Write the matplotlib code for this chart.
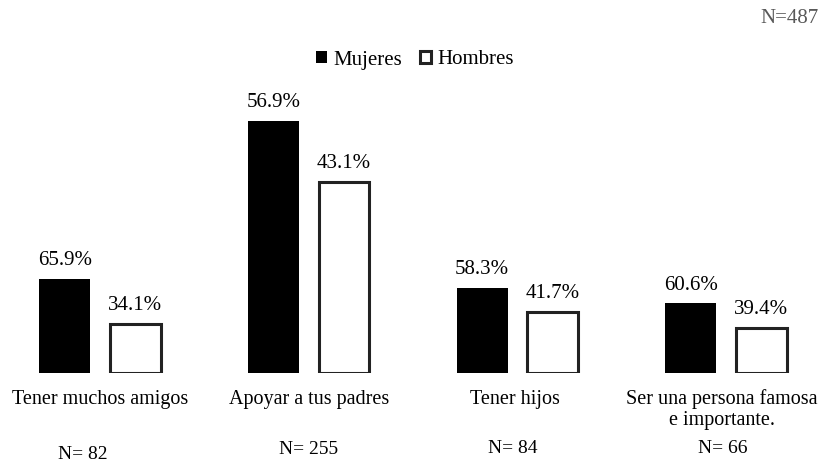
import numpy as np
import matplotlib
matplotlib.use("Agg")
import matplotlib.pyplot as plt
from matplotlib.transforms import blended_transform_factory

plt.rcParams['font.family'] = ['Liberation Serif', 'DejaVu Serif']

# datos
categorias = ['Tener muchos amigos', 'Apoyar a tus padres', 'Tener hijos',
              'Ser una persona famosa\ne importante.']
mujeres = [54, 145, 49, 40]
hombres = [28, 110, 35, 26]
pct_mujeres = ['65.9%', '56.9%', '58.3%', '60.6%']
pct_hombres = ['34.1%', '43.1%', '41.7%', '39.4%']
n_grupo = [82, 255, 84, 66]
n_total = 487

W, H = 821, 463
fig = plt.figure(figsize=(W / 100, H / 100), dpi=100)
base_px = 373          # linea base de las barras (px desde arriba)
px_por_u = 1.74        # px por persona
grupo_px = 208.7       # separacion entre grupos
x0_px = 100            # centro del primer grupo

ax = fig.add_axes([0, (H - base_px) / H, 1, base_px / H])
ax.set_xlim(-x0_px / grupo_px, (W - x0_px) / grupo_px)
ax.set_ylim(0, base_px / px_por_u)
ax.axis('off')

x = np.arange(len(categorias))
ancho = 0.244
d = 0.169
bm = ax.bar(x - d, mujeres, ancho, color='black', label='Mujeres')
bh = ax.bar(x + d, hombres, ancho, color='white', edgecolor='#222222',
            linewidth=2.2, label='Hombres')

for i in range(len(x)):
    ax.annotate(pct_mujeres[i], (x[i] - d, mujeres[i]), xytext=(0, 10),
                textcoords='offset points', ha='center', va='baseline',
                fontsize=15)
    ax.annotate(pct_hombres[i], (x[i] + d, hombres[i]), xytext=(0, 10),
                textcoords='offset points', ha='center', va='baseline',
                fontsize=15)

tr = blended_transform_factory(ax.transData, fig.transFigure)
cat_dx = [0, 0, -0.01, -0.02]
for i, c in enumerate(categorias):
    # cada renglon por separado, 21 px entre renglones
    for k, linea in enumerate(c.split('\n')):
        ax.text(x[i] + cat_dx[i], 1 - (404 + 21 * k) / H, linea, transform=tr,
                ha='center', va='baseline', fontsize=14.5)
n_dx = [-0.084, 0.0, -0.02, -0.017]
n_y = [459, 454, 453, 453]
for i, n in enumerate(n_grupo):
    ax.text(x[i] + n_dx[i], 1 - n_y[i] / H, 'N= %d' % n, transform=tr,
            ha='center', va='baseline', fontsize=14)

fig.text(819 / W, 1 - 23 / H, 'N=%d' % n_total, ha='right', va='baseline',
         fontsize=15, color='#595959')

fig.legend(handles=[bm, bh], loc='center', bbox_to_anchor=(415 / W, 1 - 60 / H),
           ncol=2, frameon=False, fontsize=15, handlelength=0.55,
           handleheight=0.55, handletextpad=0.3, columnspacing=0.85,
           borderpad=0)

fig.savefig('out.png', dpi=100)
